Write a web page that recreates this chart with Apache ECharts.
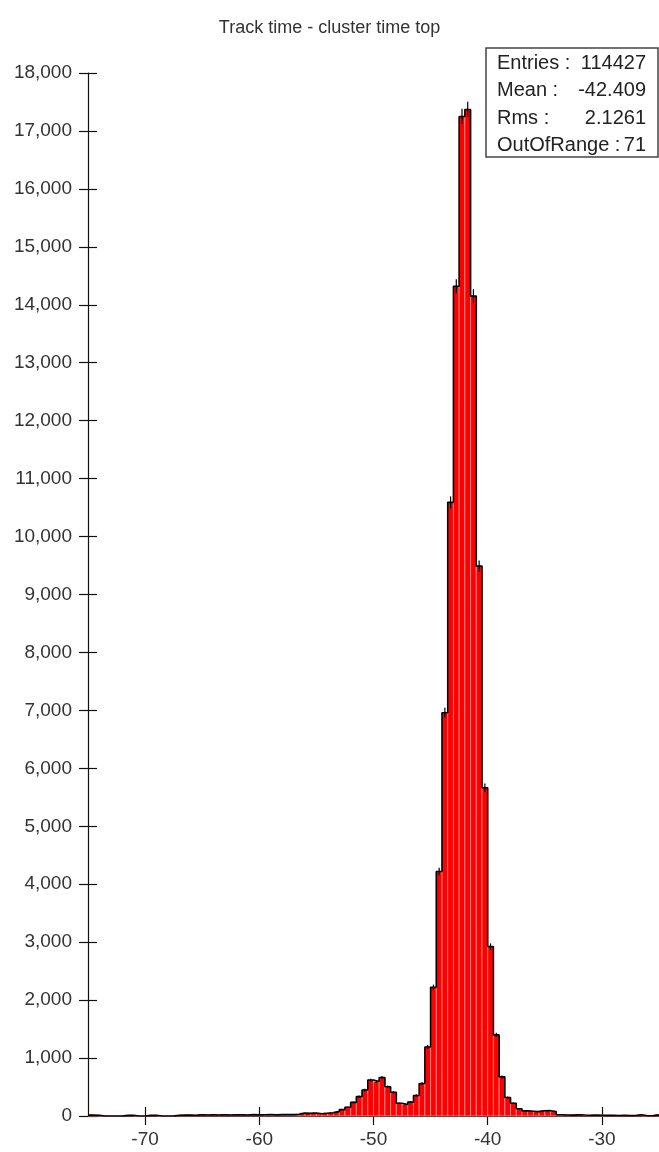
<!DOCTYPE html>
<html>
<head>
<meta charset="utf-8">
<script src="https://cdn.jsdelivr.net/npm/echarts@6/dist/echarts.min.js"></script>
<style>
  html, body { margin: 0; padding: 0; background: #fff; }
  #main { width: 659px; height: 1152px; }
</style>
</head>
<body>
<div id="main"></div>
<script>
// histogram binning: 100 bins of 0.5 from -75 to -25
var binLow = -75;
var binWidth = 0.5;
var counts = [
  15, 12, 0, 0, 0, 0, 10, 12, 0, 0,
  10, 12, 0, 0, 0, 12, 15, 18, 14, 20,
  17, 19, 16, 22, 18, 20, 21, 17, 24, 19,
  22, 25, 20, 23, 26, 24, 30, 50, 45, 52,
  40, 48, 55, 75, 110, 150, 235, 335, 450, 620,
  595, 665, 505, 410, 220, 200, 240, 355, 560, 1190,
  2220, 4220, 6960, 10590, 14320, 17250, 17370, 14150, 9490, 5665,
  2925, 1400, 675, 320, 220, 125, 88, 82, 75, 90,
  92, 75, 22, 18, 15, 20, 16, 14, 17, 12,
  10, 12, 8, 10, 6, 8, 22, 5, 4, 20
];
var xTicks = [-70, -60, -50, -40, -30];
var statNames = ['Entries :', 'Mean :', 'Rms :', 'OutOfRange :'];
var statValues = ['114427', '-42.409', '2.1261', '71'];

var chart = echarts.init(document.getElementById('main'));

// bins as [lo, hi, count]
var bins = counts.map(function (c, i) {
  var lo = binLow + i * binWidth;
  return [lo, lo + binWidth, c];
});
// outline points at bin edges
var stepPts = bins.map(function (b) { return [b[0], b[2]]; });
stepPts.push([bins[bins.length - 1][1], bins[bins.length - 1][2]]);

var axisCol = '#111';
var labelCol = '#333';
var fontFam = '"Liberation Sans", Arial, sans-serif';

var statGraphics = [{
  type: 'rect',
  shape: { x: 486, y: 48, width: 172, height: 109 },
  style: { fill: '#fff', stroke: '#444', lineWidth: 1.5 },
  z: 100
}];
statNames.forEach(function (n, i) {
  var y = 63 + i * 27.5;
  statGraphics.push({
    type: 'text', x: 497, y: y, z: 101,
    style: { text: n, fill: '#222', font: '20px ' + fontFam, verticalAlign: 'middle' }
  });
  statGraphics.push({
    type: 'text', x: 646, y: y, z: 101,
    style: { text: statValues[i], fill: '#222', font: '20px ' + fontFam, verticalAlign: 'middle', align: 'right' }
  });
});

var option = {
  animation: false,
  backgroundColor: '#fff',
  title: {
    text: 'Track time - cluster time top',
    left: 'center',
    top: 14,
    textStyle: { fontSize: 18, fontWeight: 'normal', color: '#333', fontFamily: fontFam }
  },
  grid: { left: 88, right: 0, top: 73, bottom: 36 },
  xAxis: [{
    type: 'value', min: -75, max: -25, position: 'bottom',
    axisLine: { lineStyle: { color: axisCol, width: 1.2 } },
    axisTick: { show: true, length: 9, customValues: xTicks, lineStyle: { color: axisCol, width: 1.2 } },
    axisLabel: { customValues: xTicks, fontSize: 19, color: labelCol, margin: 14, fontFamily: fontFam },
    splitLine: { show: false }
  }, {
    type: 'value', min: -75, max: -25, position: 'bottom',
    axisLine: { show: false },
    axisTick: { show: true, inside: true, length: 9, customValues: xTicks, lineStyle: { color: axisCol, width: 1.2 } },
    axisLabel: { show: false },
    splitLine: { show: false }
  }],
  yAxis: [{
    type: 'value', min: 0, max: 18000, interval: 1000, position: 'left',
    axisLine: { show: true, lineStyle: { color: axisCol, width: 1.2 } },
    axisTick: { show: true, length: 9, lineStyle: { color: axisCol, width: 1.2 } },
    axisLabel: {
      fontSize: 19, color: labelCol, margin: 16, fontFamily: fontFam,
      formatter: function (v) { return v.toLocaleString('en-US'); }
    },
    splitLine: { show: false }
  }, {
    type: 'value', min: 0, max: 18000, interval: 1000, position: 'left',
    axisLine: { show: false },
    axisTick: { show: true, inside: true, length: 9, lineStyle: { color: axisCol, width: 1.2 } },
    axisLabel: { show: false },
    splitLine: { show: false }
  }],
  series: [{
    // red bins
    type: 'custom',
    xAxisIndex: 0, yAxisIndex: 0,
    data: bins,
    z: 1,
    renderItem: function (params, api) {
      var p0 = api.coord([api.value(0), api.value(2)]);
      var p1 = api.coord([api.value(1), 0]);
      return {
        type: 'rect',
        shape: { x: p0[0], y: p0[1], width: p1[0] - p0[0], height: p1[1] - p0[1] },
        style: { fill: '#ff0000', stroke: '#ff8a8a', lineWidth: 0.8 }
      };
    }
  }, {
    // black step outline
    type: 'line',
    xAxisIndex: 0, yAxisIndex: 0,
    data: stepPts,
    step: 'end',
    symbol: 'none',
    z: 3,
    lineStyle: { color: '#000', width: 1.6 }
  }, {
    // error bars
    type: 'custom',
    xAxisIndex: 0, yAxisIndex: 0,
    data: bins,
    z: 4,
    renderItem: function (params, api) {
      var c = api.value(2);
      if (c <= 0) return null;
      var xm = (api.value(0) + api.value(1)) / 2;
      var e = Math.sqrt(c);
      var a = api.coord([xm, c + e]);
      var b = api.coord([xm, Math.max(c - e, 0)]);
      return {
        type: 'line',
        shape: { x1: a[0], y1: a[1], x2: b[0], y2: b[1] },
        style: { stroke: '#000', lineWidth: 1.2 }
      };
    }
  }],
  graphic: statGraphics
};

chart.setOption(option);
</script>
</body>
</html>
